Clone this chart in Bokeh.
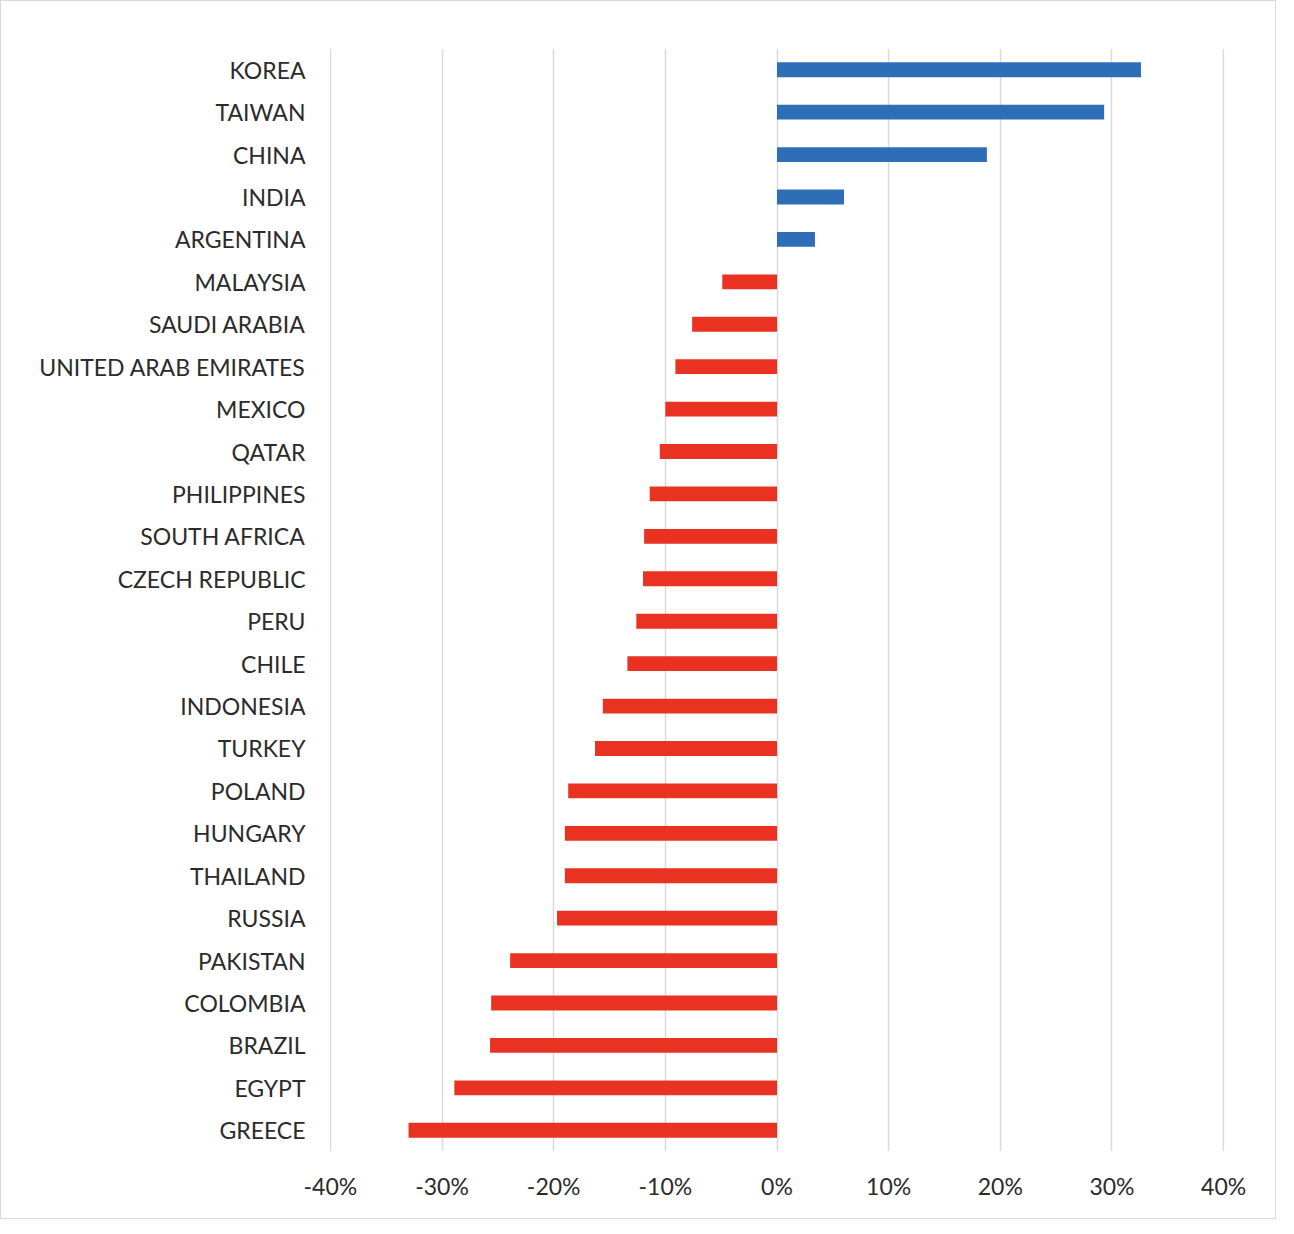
from bokeh.plotting import figure
from bokeh.models import ColumnDataSource, FactorRange, FixedTicker, NumeralTickFormatter
from bokeh.embed import file_html
from bokeh.resources import INLINE

countries = ["KOREA", "TAIWAN", "CHINA", "INDIA", "ARGENTINA", "MALAYSIA",
             "SAUDI ARABIA", "UNITED ARAB EMIRATES", "MEXICO", "QATAR",
             "PHILIPPINES", "SOUTH AFRICA", "CZECH REPUBLIC", "PERU", "CHILE",
             "INDONESIA", "TURKEY", "POLAND", "HUNGARY", "THAILAND", "RUSSIA",
             "PAKISTAN", "COLOMBIA", "BRAZIL", "EGYPT", "GREECE"]
returns = [0.326, 0.293, 0.188, 0.060, 0.034, -0.049,
           -0.076, -0.091, -0.100, -0.105,
           -0.114, -0.119, -0.120, -0.126, -0.134,
           -0.156, -0.163, -0.187, -0.190, -0.190, -0.197,
           -0.239, -0.256, -0.257, -0.289, -0.330]
x_ticks = [-0.4, -0.3, -0.2, -0.1, 0.0, 0.1, 0.2, 0.3, 0.4]

POS = "#2E6EB6"
NEG = "#EA3223"
colors = [POS if v >= 0 else NEG for v in returns]

src = ColumnDataSource(dict(country=countries, ret=returns, color=colors))

FONT = "Lato"
TXT = "#2b2b2b"

p = figure(width=1276, height=1219, output_backend="svg", toolbar_location=None,
           y_range=FactorRange(*reversed(countries), range_padding=0),
           x_range=(-0.4008, 0.4008),
           min_border_left=328, min_border_right=53,
           min_border_top=47, min_border_bottom=69)
p.styles = {"border": "1.5px solid #d9d9d9", "box-sizing": "border-box"}
p.y_range.range_padding = 0
p.y_range.factor_padding = 0

p.hbar(y="country", left=0, right="ret", height=0.35, color="color",
       line_color=None, source=src)

p.outline_line_color = None
p.xgrid.ticker = FixedTicker(ticks=x_ticks)
p.xgrid.grid_line_color = "#d9d9d9"
p.xgrid.grid_line_width = 1.5
p.ygrid.grid_line_color = None

p.xaxis.ticker = FixedTicker(ticks=x_ticks)
p.xaxis.formatter = NumeralTickFormatter(format="0%")
for ax in (p.xaxis[0], p.yaxis[0]):
    ax.axis_line_color = None
    ax.major_tick_line_color = None
    ax.minor_tick_line_color = None
    ax.major_tick_out = 0
    ax.major_tick_in = 0
    ax.major_label_text_font = FONT
    ax.major_label_text_font_size = "23px"
    ax.major_label_text_color = TXT
p.xaxis.major_label_standoff = 20
p.yaxis.major_label_standoff = 24

open("out.html", "w").write(file_html(p, INLINE))
